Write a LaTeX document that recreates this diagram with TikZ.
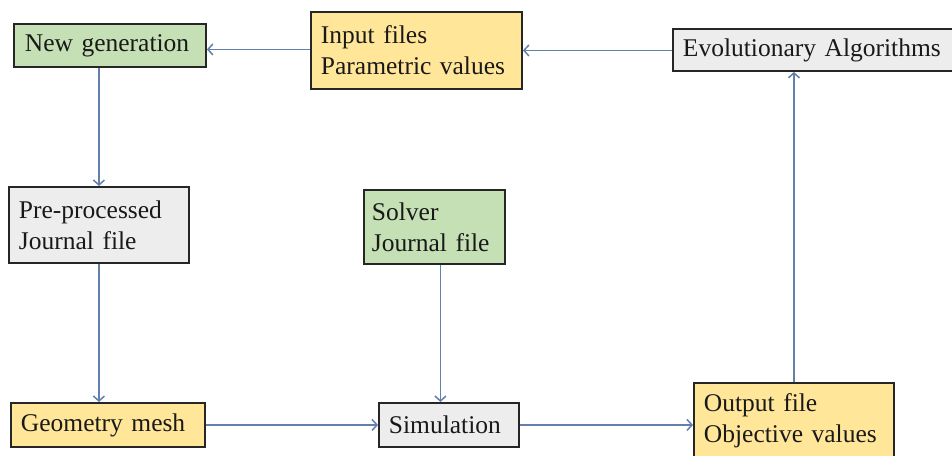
\documentclass[tikz,border=0pt]{standalone}
\usepackage{fontspec}
\setmainfont{Liberation Serif}
\usetikzlibrary{arrows.meta}
\definecolor{boxgreen}{RGB}{197,224,180}
\definecolor{boxyellow}{RGB}{255,230,153}
\definecolor{boxgray}{RGB}{237,237,237}
\definecolor{arrowc}{RGB}{98,128,172}
\tikzset{
  box/.style={draw=black!85, line width=1.9pt, anchor=north west,
    inner xsep=10pt, inner ysep=0pt, align=left, text=black!90,
    font=\fontsize{25.5}{31}\selectfont},
  flow/.style={draw=arrowc, line width=1.6pt,
    -{Straight Barb[length=5pt,width=11pt,line width=1.5pt]}}
}
\begin{document}
\begin{tikzpicture}[x=1pt,y=-1pt]
\useasboundingbox (0,0) rectangle (952,455);
\fill[white] (0,0) rectangle (952,455);

% process boxes
\node[box, fill=boxgreen, minimum width=192pt, minimum height=43pt, text width=172pt]
  (ng) at (13,23) {\hspace*{1pt}New generation};
\node[box, fill=boxyellow, minimum width=211pt, minimum height=77pt, text width=191pt]
  (inp) at (310,11) {Input files\\Parametric values};
\node[box, fill=boxgray, minimum width=290pt, minimum height=42pt, text width=270pt]
  (evo) at (672,28) {Evolutionary Algorithms};
\node[box, fill=boxgray, minimum width=180pt, minimum height=76pt, text width=160pt]
  (pre) at (8,186) {Pre-processed\\Journal file};
\node[box, fill=boxgreen, minimum width=141pt, minimum height=74pt, text width=125pt, inner xsep=8pt]
  (sol) at (363,189) {Solver\\Journal file};
\node[box, fill=boxyellow, minimum width=194pt, minimum height=44pt, text width=174pt]
  (geo) at (10,402) {Geometry mesh};
\node[box, fill=boxgray, minimum width=140pt, minimum height=44pt, text width=120pt]
  (sim) at (378,402) {Simulation};
\node[box, fill=boxyellow, minimum width=200pt, minimum height=76pt, text width=180pt]
  (out) at (693,382) {Output file\\Objective values};

% connectors
\draw[flow] ([yshift=-0.5pt]evo.west) -- ([yshift=-0.5pt]evo.west -| inp.east);
\draw[flow] ([yshift=1pt]inp.west) -- ([yshift=1pt]inp.west -| ng.east);
\draw[flow] (pre.north |- ng.south) -- (pre.north);
\draw[flow] (pre.south) -- (pre.south |- geo.north);
\draw[flow] ([xshift=6pt]sol.south) -- ([xshift=6pt]sol.south |- sim.north);
\draw[flow] (geo.east) -- (sim.west);
\draw[flow] (sim.east) -- (sim.east -| out.west);
\draw[flow] (out.north) -- (out.north |- evo.south);
\end{tikzpicture}
\end{document}
